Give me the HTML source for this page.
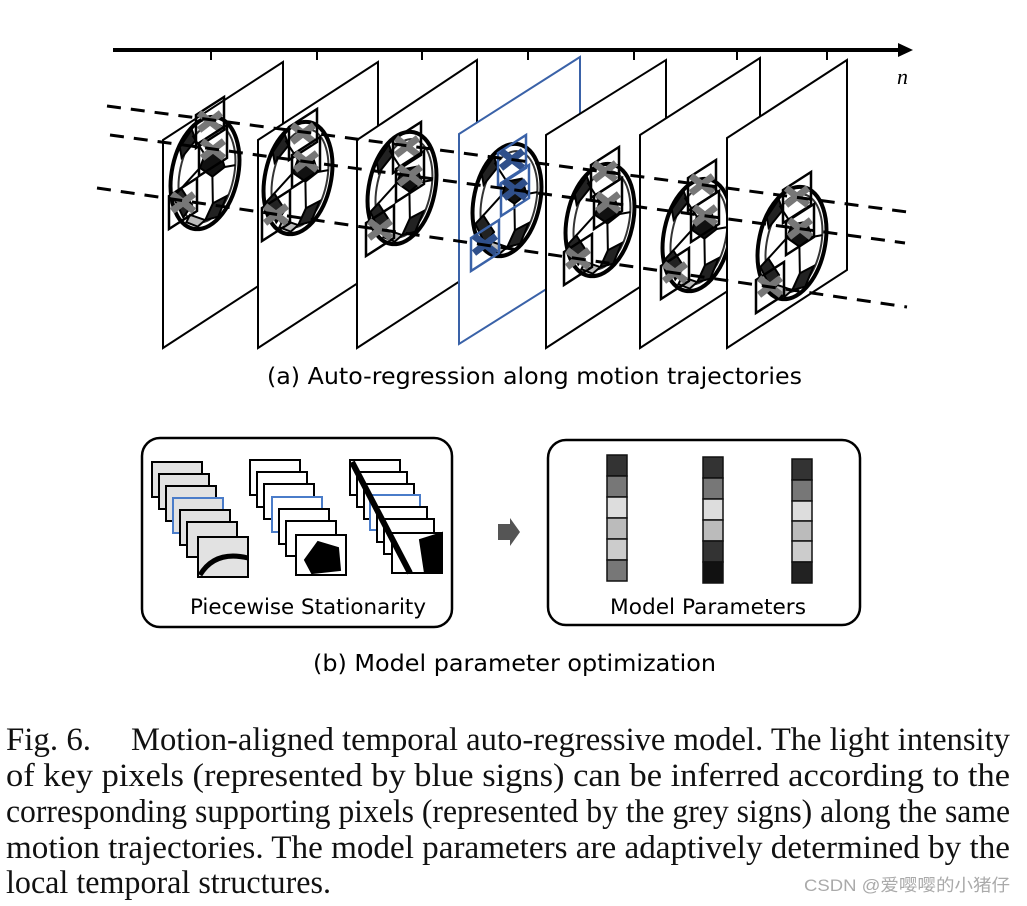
<!DOCTYPE html>
<html><head><meta charset="utf-8"><style>html,body{margin:0;padding:0;background:#fff}svg{display:block}</style></head><body>
<svg width="1027" height="906" viewBox="0 0 1027 906" xmlns="http://www.w3.org/2000/svg">
<defs>
<g id="ball" transform="rotate(12)">
<ellipse cx="0" cy="0" rx="33" ry="57" fill="#fff" stroke="#000" stroke-width="4"/>
<ellipse cx="2" cy="0" rx="27" ry="50" fill="none" stroke="#333" stroke-width="2"/>
<polygon points="-4,-18 10,-24 18,-10 8,2 -6,-4" fill="#111"/>
<polygon points="-26,-10 -16,-30 -22,-40 -30,-20" fill="#222"/>
<polygon points="-20,20 -6,34 -12,48 -26,30" fill="#222"/>
<polygon points="14,28 26,18 22,40 10,46" fill="#222"/>
<polygon points="-6,44 10,46 4,54 -8,52" fill="#bbb"/>
<path d="M-4,-18 L-20,-34 M18,-10 L28,-14 M8,2 L14,28 M-6,-4 L-20,20" stroke="#000" stroke-width="2"/>
</g>
<g id="patch"><polygon points="-14,-7 14,-25 14,8 -14,26" fill="none" stroke="#000" stroke-width="2.5"/>
<path d="M-11,-9 L11,8 M-11,8 L11,-9" stroke="#777" stroke-width="7"/></g>
<g id="bpatch"><polygon points="-14,-7 14,-25 14,8 -14,26" fill="none" stroke="#3a62a8" stroke-width="2.5"/>
<path d="M-11,-9 L11,8 M-11,8 L11,-9" stroke="#2f4f8a" stroke-width="7"/></g>
</defs>
<line x1="113" y1="50" x2="900" y2="50" stroke="#000" stroke-width="4"/>
<polygon points="898,43 913,50 898,57" fill="#000"/>
<g stroke="#000" stroke-width="2"><line x1="211" y1="50" x2="211" y2="60"/><line x1="317" y1="50" x2="317" y2="60"/><line x1="422" y1="50" x2="422" y2="60"/><line x1="528" y1="50" x2="528" y2="60"/><line x1="634" y1="50" x2="634" y2="60"/><line x1="737" y1="50" x2="737" y2="60"/><line x1="827" y1="50" x2="827" y2="60"/></g>
<text x="897" y="84" font-family="Liberation Serif, serif" font-style="italic" font-size="22">n</text>
<g fill="#fff" stroke="#000" stroke-width="2">
<polygon points="163,140 283,62 283,270 163,348"/>
<use href="#ball" x="205" y="173"/>
<polygon points="258,140 378,62 378,270 258,348"/>
<use href="#ball" x="298" y="178"/>
<polygon points="357,140 477,60 477,270 357,348"/>
<use href="#ball" x="402" y="188"/>
<polygon points="459,134 580,57 580,268 459,344" stroke="#3a62a8"/>
<use href="#ball" x="507" y="200"/>
<polygon points="546,135 666,60 666,270 546,348"/>
<use href="#ball" x="600" y="220"/>
<polygon points="640,135 760,58 760,270 640,348"/>
<use href="#ball" x="697" y="235"/>
<polygon points="727,138 847,60 847,270 727,348"/>
<use href="#ball" x="792" y="243"/>
</g>
<use href="#patch" x="210" y="122"/><use href="#patch" x="213" y="150"/><use href="#patch" x="183" y="203"/>
<use href="#patch" x="303" y="134"/><use href="#patch" x="306" y="162"/><use href="#patch" x="276" y="215"/>
<use href="#patch" x="407" y="147"/><use href="#patch" x="410" y="176"/><use href="#patch" x="380" y="230"/>
<use href="#bpatch" x="512" y="160"/><use href="#bpatch" x="515" y="190"/><use href="#bpatch" x="485" y="245"/>
<use href="#patch" x="605" y="172"/><use href="#patch" x="608" y="203"/><use href="#patch" x="578" y="259"/>
<use href="#patch" x="702" y="185"/><use href="#patch" x="705" y="216"/><use href="#patch" x="675" y="273"/>
<use href="#patch" x="797" y="197"/><use href="#patch" x="800" y="229"/><use href="#patch" x="770" y="287"/>
<g stroke="#000" stroke-width="3" stroke-dasharray="14,10">
<line x1="107" y1="106" x2="915" y2="213"/>
<line x1="110" y1="135" x2="905" y2="243"/>
<line x1="97" y1="188" x2="907" y2="307"/>
</g>
<text x="267" y="384" font-family="DejaVu Sans, sans-serif" font-size="23" textLength="535" lengthAdjust="spacingAndGlyphs">(a) Auto-regression along motion trajectories</text>
<rect x="142" y="438" width="310" height="189" rx="18" fill="#fff" stroke="#000" stroke-width="2.5"/>
<g stroke="#000" stroke-width="2">
<g fill="#e2e2e2">
<rect x="152" y="462" width="50" height="35"/><rect x="159" y="474" width="50" height="35"/><rect x="166" y="486" width="50" height="35"/><rect x="173" y="498" width="50" height="35" stroke="#4a7cc9"/><rect x="180" y="510" width="50" height="35"/><rect x="187" y="522" width="50" height="35"/><rect x="198" y="537" width="50" height="40"/>
</g>
<path d="M200,575 Q215,550 248,558" fill="none" stroke-width="5"/>
<g fill="#fff">
<rect x="250" y="460" width="50" height="35"/><rect x="257" y="472" width="50" height="35"/><rect x="264" y="484" width="50" height="35"/><rect x="272" y="497" width="50" height="35" stroke="#4a7cc9"/><rect x="279" y="509" width="50" height="35"/><rect x="286" y="521" width="50" height="35"/><rect x="296" y="535" width="50" height="40"/>
</g>
<polygon points="305,560 318,542 338,548 340,570 312,573" fill="#000"/>
<g fill="#fff">
<rect x="350" y="460" width="50" height="35"/><rect x="357" y="472" width="50" height="35"/><rect x="364" y="484" width="50" height="35"/><rect x="370" y="495" width="50" height="35" stroke="#4a7cc9"/><rect x="377" y="507" width="50" height="35"/><rect x="384" y="519" width="50" height="35"/><rect x="392" y="533" width="50" height="40"/>
</g>
<polygon points="420,540 442,533 442,573 425,573" fill="#000"/>
<path d="M352,462 L410,573" stroke-width="6"/>
</g>
<text x="190" y="614" font-family="DejaVu Sans, sans-serif" font-size="21" textLength="236" lengthAdjust="spacingAndGlyphs">Piecewise Stationarity</text>
<polygon points="498,524 510,524 510,518 520,532 510,546 510,540 498,540" fill="#555"/>
<rect x="548" y="440" width="312" height="185" rx="18" fill="#fff" stroke="#000" stroke-width="2.5"/>
<g stroke="#111" stroke-width="1.5">
<rect x="607" y="455" width="20" height="21" fill="#333"/><rect x="607" y="476" width="20" height="21" fill="#777"/><rect x="607" y="497" width="20" height="21" fill="#ddd"/><rect x="607" y="518" width="20" height="21" fill="#bbb"/><rect x="607" y="539" width="20" height="21" fill="#ccc"/><rect x="607" y="560" width="20" height="21" fill="#777"/>
<rect x="703" y="457" width="20" height="21" fill="#333"/><rect x="703" y="478" width="20" height="21" fill="#777"/><rect x="703" y="499" width="20" height="21" fill="#ddd"/><rect x="703" y="520" width="20" height="21" fill="#bbb"/><rect x="703" y="541" width="20" height="21" fill="#333"/><rect x="703" y="562" width="20" height="21" fill="#111"/>
<rect x="792" y="459" width="20" height="21" fill="#333"/><rect x="792" y="480" width="20" height="21" fill="#777"/><rect x="792" y="501" width="20" height="20" fill="#ddd"/><rect x="792" y="521" width="20" height="20" fill="#bbb"/><rect x="792" y="541" width="20" height="21" fill="#ccc"/><rect x="792" y="562" width="20" height="21" fill="#222"/>
</g>
<text x="610" y="614" font-family="DejaVu Sans, sans-serif" font-size="21" textLength="196" lengthAdjust="spacingAndGlyphs">Model Parameters</text>
<text x="313" y="671" font-family="DejaVu Sans, sans-serif" font-size="23" textLength="403" lengthAdjust="spacingAndGlyphs">(b) Model parameter optimization</text>
<g font-family="Liberation Serif, serif" font-size="33" fill="#111">
<text x="6" y="750" textLength="85" lengthAdjust="spacingAndGlyphs">Fig. 6.</text>
<text x="131" y="750" textLength="879" lengthAdjust="spacingAndGlyphs">Motion-aligned temporal auto-regressive model. The light intensity</text>
<text x="6" y="786" textLength="1004" lengthAdjust="spacingAndGlyphs">of key pixels (represented by blue signs) can be inferred according to the</text>
<text x="6" y="822" textLength="1004" lengthAdjust="spacingAndGlyphs">corresponding supporting pixels (represented by the grey signs) along the same</text>
<text x="6" y="858" textLength="1004" lengthAdjust="spacingAndGlyphs">motion trajectories. The model parameters are adaptively determined by the</text>
<text x="6" y="893" textLength="325" lengthAdjust="spacingAndGlyphs">local temporal structures.</text>
</g>
<text x="804" y="891" font-family="Liberation Sans, Noto Sans CJK SC, sans-serif" font-size="17" fill="#aaa" textLength="206" lengthAdjust="spacingAndGlyphs">CSDN @爱嘤嘤的小猪仔</text>
</svg>
</body></html>
